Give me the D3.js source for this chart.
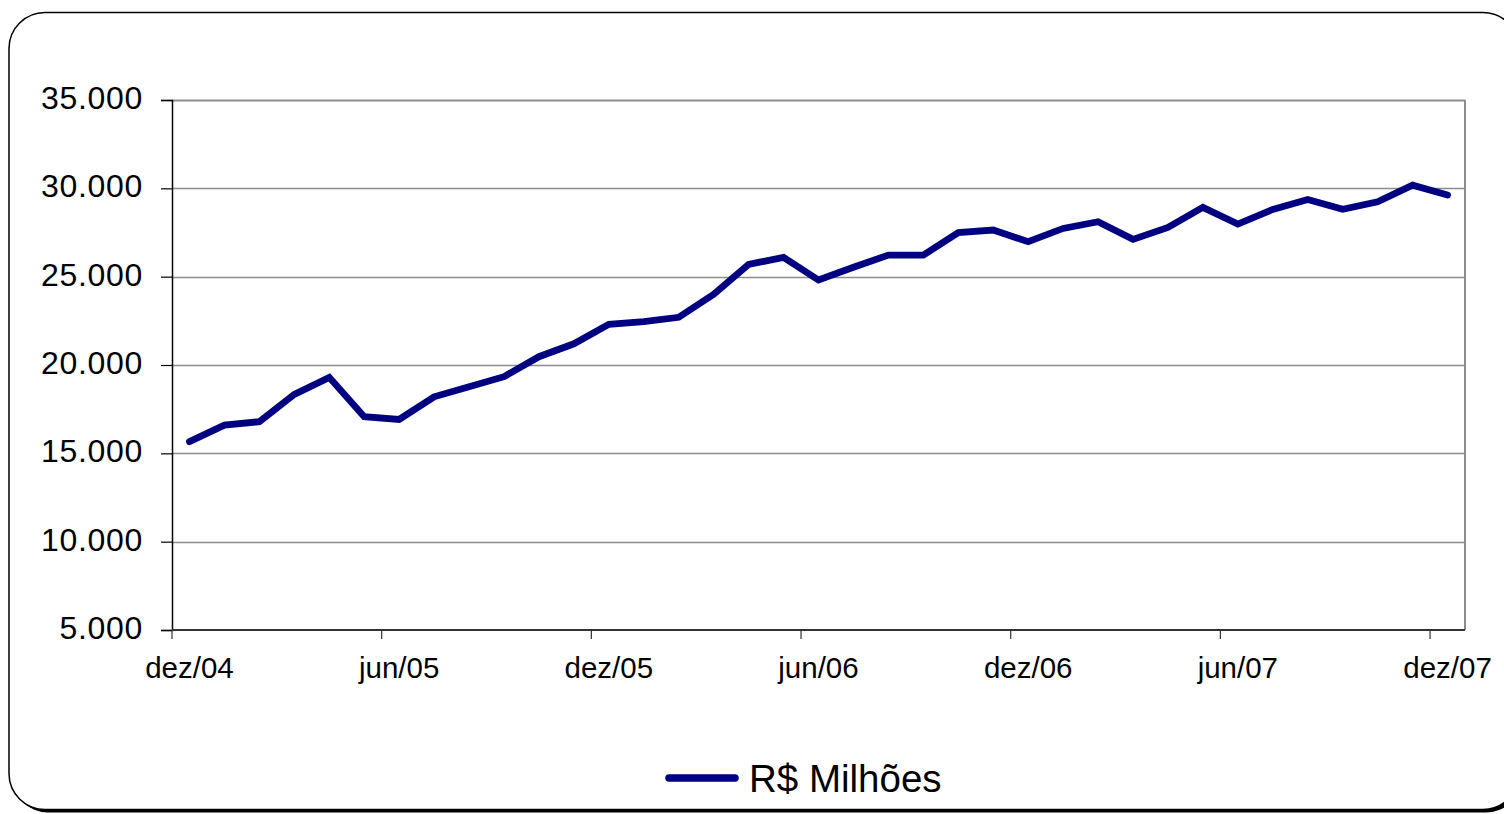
<!DOCTYPE html>
<html>
<head>
<meta charset="utf-8">
<script src="https://cdn.jsdelivr.net/npm/d3@7"></script>
<style>
  body { margin: 0; background: #fff; }
  svg { display: block; font-family: "Liberation Sans", Arial, sans-serif; }
</style>
</head>
<body>
<svg width="1504" height="814"></svg>
<script>
// monthly categories, dez/04 .. dez/07
var months = ["dez/04","jan/05","fev/05","mar/05","abr/05","mai/05","jun/05","jul/05","ago/05","set/05","out/05","nov/05",
              "dez/05","jan/06","fev/06","mar/06","abr/06","mai/06","jun/06","jul/06","ago/06","set/06","out/06","nov/06",
              "dez/06","jan/07","fev/07","mar/07","abr/07","mai/07","jun/07","jul/07","ago/07","set/07","out/07","nov/07",
              "dez/07"];

// R$ Milhões
var values = [15660, 16600, 16790, 18340, 19300, 17070, 16920, 18200, 18770, 19340, 20470, 21200,
              22300, 22450, 22700, 24000, 25700, 26090, 24810, 25530, 26220, 26220, 27490, 27640,
              26980, 27730, 28110, 27110, 27790, 28920, 27980, 28810, 29370, 28810, 29240, 30180,
              29620];

var yTicks = [5000, 10000, 15000, 20000, 25000, 30000, 35000];
var seriesName = "R$ Milhões";

var margin = {top: 100, left: 172, right: 1504 - 1465, bottom: 814 - 630},
    width = 1504 - margin.left - margin.right,
    height = 814 - margin.top - margin.bottom;

var svg = d3.select("svg");

// rounded frame with a small dark shadow
svg.append("rect")
    .attr("x", 12).attr("y", 15.5)
    .attr("width", 1510).attr("height", 797)
    .attr("rx", 36).attr("ry", 36)
    .attr("fill", "#000");
svg.append("rect")
    .attr("x", 9).attr("y", 12.5)
    .attr("width", 1510).attr("height", 797)
    .attr("rx", 36).attr("ry", 36)
    .attr("fill", "#fff")
    .attr("stroke", "#000")
    .attr("stroke-width", 1.5);

var g = svg.append("g").attr("transform", "translate(" + margin.left + "," + margin.top + ")");

var x = d3.scaleBand().domain(months).range([0, width]).padding(0);
var y = d3.scaleLinear().domain([5000, 35000]).range([height, 0]);

// gridlines
g.append("g")
    .selectAll("line")
    .data(yTicks.slice(1))
    .enter().append("line")
    .attr("x1", 0).attr("x2", width)
    .attr("y1", function(d) { return Math.round(y(d)) + 0.5; })
    .attr("y2", function(d) { return Math.round(y(d)) + 0.5; })
    .attr("stroke", "#8c8c8c")
    .attr("stroke-width", function(d) { return d === 35000 ? 2 : 1.3; });

// right border of plot area
g.append("line")
    .attr("x1", width).attr("x2", width)
    .attr("y1", 0).attr("y2", height)
    .attr("stroke", "#8c8c8c")
    .attr("stroke-width", 2);

// y axis
var yAxis = g.append("g")
    .call(d3.axisLeft(y).tickValues(yTicks).tickSize(11).tickPadding(18)
        .tickFormat(function(d) { return d3.format(",")(d).replace(/,/g, "."); }));
yAxis.select(".domain").attr("stroke", "#000").attr("stroke-width", 1.5);
yAxis.selectAll(".tick line").attr("stroke", "#000").attr("stroke-width", 1.2);
yAxis.selectAll(".tick text")
    .attr("fill", "#000")
    .style("font-size", "32px")
    .style("letter-spacing", "0.7px")
    .attr("dy", "0.27em");

// x axis: ticks on category boundaries every 6 months, labels centred on the category
var tickIdx = d3.range(0, months.length, 6);
var xAxis = g.append("g").attr("transform", "translate(0," + height + ")");
xAxis.append("line")
    .attr("x1", 0).attr("x2", width)
    .attr("stroke", "#333").attr("stroke-width", 2);
xAxis.selectAll("line.tk")
    .data(tickIdx)
    .enter().append("line")
    .attr("class", "tk")
    .attr("x1", function(i) { return x(months[i]); })
    .attr("x2", function(i) { return x(months[i]); })
    .attr("y1", 0).attr("y2", 9)
    .attr("stroke", "#333").attr("stroke-width", 1.2);
xAxis.selectAll("text")
    .data(tickIdx)
    .enter().append("text")
    .attr("x", function(i) { return x(months[i]) + x.bandwidth() / 2; })
    .attr("y", 48)
    .attr("text-anchor", "middle")
    .attr("fill", "#000")
    .style("font-size", "29.5px")
    .text(function(i) { return months[i]; });

// the series line
var line = d3.line()
    .x(function(d, i) { return x(months[i]) + x.bandwidth() / 2; })
    .y(function(d) { return y(d); });

g.append("path")
    .datum(values)
    .attr("fill", "none")
    .attr("stroke", "#000080")
    .attr("stroke-width", 6.8)
    .attr("stroke-linejoin", "miter")
    .attr("stroke-linecap", "round")
    .attr("d", line);

// legend
var legend = svg.append("g").attr("transform", "translate(0,778)");
legend.append("line")
    .attr("x1", 669).attr("x2", 735)
    .attr("stroke", "#000080")
    .attr("stroke-width", 7.5)
    .attr("stroke-linecap", "round");
legend.append("text")
    .attr("x", 749)
    .attr("y", 14)
    .attr("fill", "#000")
    .style("font-size", "38.5px")
    .text(seriesName);
</script>
</body>
</html>
